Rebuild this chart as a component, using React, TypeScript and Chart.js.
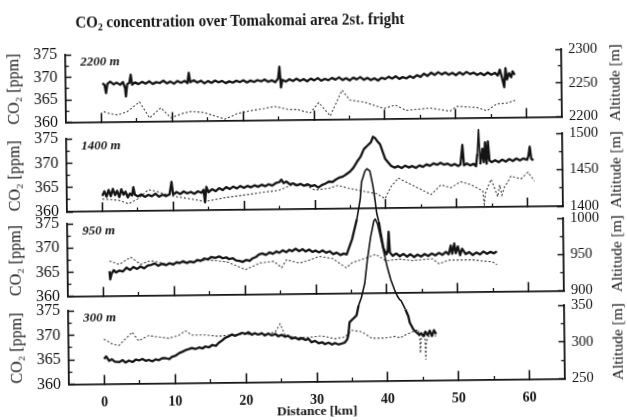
import { useEffect, useRef } from "react";
import { Chart, registerables } from "chart.js";

Chart.register(...registerables);

const SERIF = '"Liberation Serif", "Times New Roman", serif';
const INK = "#141414";

// ---- flight legs and axes -------------------------------------------------
const legNames = ["2200 m", "1400 m", "950 m", "300 m"];
const co2Ticks = [360, 365, 370, 375];
const co2MinorTicks = [362.5, 367.5, 372.5];
const altitudeRanges = [
  [2200, 2300],
  [1400, 1500],
  [900, 1000],
  [250, 350],
];
const distanceTicks = [0, 10, 20, 30, 40, 50, 60];
const distanceMinorTicks = [5, 15, 25, 35, 45, 55];

// ---- CO2 [ppm] along track, [distance km, ppm] ---------------------------
const co2Leg2200 = [
  [0.2, 368.6], [0.5, 368.2], [0.7, 366.4], [0.9, 368.4], [1.3, 368.9], [1.8, 368.3], [2.2, 368.7],
  [2.7, 368.2], [3.1, 368.8], [3.4, 367.4], [3.5, 365.6], [3.7, 368.3], [4.0, 368.6], [4.2, 370.4],
  [4.4, 368.2], [4.8, 368.7], [5.3, 368.3], [5.8, 368.8], [6.3, 368.4], [6.8, 368.9], [7.3, 368.3],
  [7.8, 368.7], [8.3, 368.5], [8.8, 369.0], [9.3, 368.4], [9.8, 368.8], [10.3, 368.3], [10.8, 368.9],
  [11.3, 368.5], [11.8, 368.9], [12.2, 368.4], [12.4, 370.7], [12.6, 368.6], [13.1, 369.0], [13.6, 368.5],
  [14.1, 368.9], [14.6, 368.3], [15.1, 368.8], [15.6, 368.4], [16.1, 368.9], [16.6, 368.5], [17.1, 368.8],
  [17.6, 368.3], [18.1, 368.7], [18.6, 368.4], [19.1, 368.8], [19.6, 368.5], [20.1, 368.9], [20.6, 368.4],
  [21.1, 368.8], [21.6, 368.5], [22.1, 368.9], [22.6, 368.6], [23.1, 369.0], [23.6, 368.5], [24.1, 368.8],
  [24.6, 368.4], [25.0, 369.2], [25.2, 371.8], [25.4, 367.2], [25.6, 368.9], [26.1, 368.5], [26.6, 369.0],
  [27.1, 368.6], [27.6, 369.1], [28.1, 368.6], [28.6, 369.0], [29.1, 368.5], [29.6, 369.1], [30.1, 368.7],
  [30.6, 369.2], [31.1, 368.6], [31.6, 369.0], [32.1, 368.7], [32.6, 369.2], [33.1, 368.8], [33.6, 369.3],
  [34.1, 368.7], [34.6, 369.1], [35.1, 368.6], [35.6, 369.2], [36.1, 368.8], [36.6, 369.3], [37.1, 368.7],
  [37.6, 369.1], [38.1, 368.6], [38.6, 369.0], [39.1, 368.5], [39.6, 369.1], [40.1, 368.8], [40.6, 369.3],
  [41.1, 368.9], [41.6, 369.4], [42.1, 368.8], [42.6, 369.2], [43.1, 368.9], [43.6, 369.4], [44.1, 369.0],
  [44.6, 369.6], [45.1, 369.2], [45.6, 369.9], [46.1, 369.4], [46.6, 370.1], [47.1, 369.6], [47.6, 370.2],
  [48.1, 369.7], [48.6, 370.1], [49.1, 369.6], [49.6, 370.0], [50.1, 369.5], [50.6, 370.1], [51.1, 369.6],
  [51.6, 370.2], [52.1, 369.7], [52.6, 370.0], [53.1, 369.5], [53.6, 369.9], [54.1, 369.4], [54.6, 370.0],
  [55.1, 369.5], [55.6, 369.9], [56.0, 369.3], [56.3, 370.6], [56.6, 368.8], [56.9, 366.7], [57.1, 370.9],
  [57.3, 368.4], [57.6, 369.8], [57.9, 368.9], [58.1, 370.2], [58.4, 369.4],
];

const co2Leg1400 = [
  [0.0, 363.2], [0.3, 364.1], [0.6, 363.0], [0.9, 364.4], [1.2, 363.1], [1.5, 364.6], [1.8, 363.3],
  [2.1, 364.2], [2.4, 362.9], [2.7, 364.5], [3.0, 363.4], [3.3, 364.0], [3.6, 362.8], [3.9, 363.6],
  [4.2, 363.2], [4.4, 364.9], [4.6, 363.4], [5.0, 363.0], [5.5, 363.4], [6.0, 362.9], [6.5, 363.3],
  [7.0, 363.0], [7.5, 363.5], [8.0, 362.9], [8.5, 363.3], [9.0, 363.0], [9.5, 363.4], [9.8, 365.9],
  [10.0, 363.3], [10.5, 363.8], [11.0, 363.4], [11.5, 363.9], [12.0, 363.5], [12.5, 363.8], [13.0, 363.4],
  [13.5, 363.9], [14.0, 363.6], [14.3, 364.2], [14.5, 361.6], [14.7, 364.8], [15.0, 363.7], [15.5, 364.3],
  [16.0, 363.9], [16.5, 364.5], [17.0, 364.1], [17.5, 364.7], [18.0, 364.3], [18.5, 364.8], [19.0, 364.4],
  [19.5, 364.9], [20.0, 364.5], [20.5, 364.9], [21.0, 364.6], [21.5, 365.0], [22.0, 364.7], [22.5, 365.1],
  [23.0, 364.8], [23.5, 365.2], [24.0, 364.9], [24.5, 365.4], [25.0, 365.6], [25.3, 366.1], [25.6, 365.4],
  [26.0, 365.7], [26.5, 365.1], [27.0, 365.3], [27.5, 364.9], [28.0, 365.2], [28.5, 364.8], [29.0, 365.1],
  [29.5, 364.7], [30.0, 364.9], [30.5, 364.4], [31.0, 364.9], [31.5, 365.2], [32.0, 365.6], [32.5, 365.5],
  [33.0, 366.0], [33.5, 366.4], [34.0, 366.6], [34.5, 367.1], [35.0, 367.6], [35.5, 368.4], [36.0, 369.6],
  [36.5, 370.6], [37.0, 372.2], [37.5, 372.9], [38.0, 373.6], [38.3, 374.7], [38.6, 374.4], [39.0, 373.6],
  [39.3, 373.1], [39.6, 371.8], [40.0, 370.1], [40.4, 369.4], [40.8, 368.7], [41.3, 368.3], [41.8, 368.6],
  [42.3, 368.2], [42.8, 368.7], [43.3, 368.3], [43.8, 368.6], [44.3, 368.2], [44.8, 368.7], [45.3, 368.4],
  [45.8, 368.9], [46.3, 368.6], [46.8, 369.1], [47.3, 368.8], [47.8, 369.2], [48.3, 368.8], [48.8, 369.0],
  [49.3, 368.6], [49.8, 368.9], [50.3, 368.5], [50.6, 368.8], [50.9, 372.8], [51.1, 368.6], [51.5, 369.0],
  [52.0, 368.6], [52.5, 368.9], [52.8, 368.4], [53.0, 371.0], [53.2, 375.9], [53.4, 368.8], [53.7, 372.0],
  [53.9, 369.2], [54.1, 373.3], [54.3, 368.9], [54.5, 373.5], [54.7, 369.6], [55.0, 369.2], [55.5, 369.6],
  [56.0, 369.2], [56.5, 369.7], [57.0, 369.3], [57.5, 369.8], [58.0, 369.4], [58.5, 369.9], [59.0, 369.5],
  [59.5, 369.9], [60.0, 369.6], [60.2, 370.4], [60.4, 372.3], [60.6, 369.8], [60.9, 369.5],
];

const co2Leg950 = [
  [0.9, 365.1], [1.0, 363.4], [1.2, 364.6], [1.5, 365.3], [1.8, 364.8], [2.3, 365.2], [2.8, 365.0],
  [3.3, 365.8], [3.8, 365.3], [4.3, 365.9], [4.8, 365.5], [5.3, 366.0], [5.8, 365.6], [6.3, 366.2],
  [6.8, 366.3], [7.3, 366.6], [7.8, 366.1], [8.3, 366.5], [8.9, 366.2], [9.4, 366.6], [9.9, 366.3],
  [10.4, 366.8], [10.8, 366.6], [11.3, 367.0], [11.8, 366.6], [12.3, 366.9], [12.8, 366.7], [13.3, 367.2],
  [13.8, 367.0], [14.3, 367.5], [14.8, 367.3], [15.3, 367.8], [15.9, 367.6], [16.4, 367.9], [16.9, 367.5],
  [17.4, 367.7], [17.8, 367.3], [18.3, 367.5], [18.8, 367.0], [19.3, 366.9], [19.7, 366.7], [20.2, 367.1],
  [20.7, 366.9], [21.1, 367.4], [21.6, 367.7], [22.0, 368.2], [22.5, 368.4], [23.0, 368.1], [23.5, 368.6],
  [24.0, 368.3], [24.5, 368.8], [24.9, 368.5], [25.4, 369.0], [25.9, 368.6], [26.3, 369.1], [26.7, 368.8],
  [27.2, 369.3], [27.7, 368.8], [28.2, 369.2], [28.6, 368.7], [29.1, 369.1], [29.6, 368.6], [30.0, 368.9],
  [30.5, 368.5], [31.0, 368.9], [31.5, 368.4], [32.0, 368.7], [32.5, 368.1], [33.0, 368.4], [33.5, 367.9],
  [34.0, 368.2], [34.4, 368.0], [34.7, 369.2], [35.2, 371.2], [35.9, 375.3], [36.4, 379.4], [36.6, 382.9],
  [37.1, 385.2], [37.4, 385.7], [37.8, 385.2], [38.2, 382.2], [38.5, 379.0], [38.7, 376.5], [39.0, 374.6],
  [39.2, 372.6], [39.6, 369.2], [40.0, 367.9], [40.2, 368.6], [40.35, 372.6], [40.5, 368.3], [40.9, 367.6],
  [41.4, 368.1], [41.9, 367.5], [42.4, 368.0], [42.9, 367.4], [43.4, 367.9], [43.9, 367.3], [44.4, 367.8],
  [44.9, 367.4], [45.4, 367.9], [45.9, 367.5], [46.4, 368.0], [46.9, 367.6], [47.4, 368.1], [47.9, 367.7],
  [48.4, 368.3], [48.8, 367.8], [49.1, 369.6], [49.3, 367.9], [49.6, 370.0], [49.8, 368.0], [50.1, 369.4],
  [50.4, 367.6], [50.7, 368.9], [51.2, 367.8], [51.7, 368.2], [52.2, 367.6], [52.7, 368.1], [53.2, 367.7],
  [53.7, 368.3], [54.2, 367.8], [54.7, 368.2], [55.2, 367.9], [55.6, 368.3],
];

const co2Leg300 = [
  [0.0, 365.1], [0.3, 365.6], [0.7, 364.7], [1.1, 365.0], [1.5, 364.5], [2.1, 364.4], [2.6, 364.8],
  [3.0, 364.3], [3.5, 364.7], [4.0, 364.4], [4.5, 364.9], [4.9, 364.7], [5.4, 365.0], [5.9, 364.6],
  [6.3, 364.8], [6.8, 364.5], [7.3, 364.9], [7.7, 364.7], [8.2, 365.1], [8.7, 365.1], [9.2, 364.9],
  [9.6, 365.4], [10.1, 365.6], [10.6, 366.1], [11.1, 366.4], [11.5, 366.7], [12.0, 366.9], [12.4, 367.1],
  [12.9, 366.9], [13.4, 367.2], [13.9, 367.0], [14.3, 367.4], [14.8, 367.2], [15.3, 367.7], [15.8, 367.5],
  [16.2, 368.1], [16.7, 368.6], [17.1, 369.1], [17.6, 369.4], [18.1, 369.8], [18.5, 369.5], [19.0, 369.8],
  [19.5, 370.1], [20.0, 369.9], [20.4, 370.2], [20.9, 369.7], [21.3, 370.0], [21.8, 369.7], [22.3, 370.0],
  [22.7, 369.5], [23.2, 369.9], [23.7, 369.5], [24.2, 369.8], [24.6, 369.3], [25.1, 369.6], [25.6, 369.2],
  [26.0, 369.4], [26.5, 368.8], [27.0, 369.0], [27.5, 368.6], [27.9, 368.9], [28.4, 368.5], [28.9, 368.7],
  [29.3, 368.0], [29.8, 368.3], [30.3, 367.8], [30.8, 368.0], [31.2, 367.6], [31.7, 367.9], [32.2, 367.5],
  [32.6, 367.8], [33.1, 367.5], [33.6, 367.7], [34.0, 367.9], [34.3, 368.4], [34.5, 369.3], [34.7, 372.0],
  [35.2, 372.7], [35.7, 373.4], [36.0, 375.4], [36.4, 377.0], [36.9, 379.9], [37.3, 384.6], [37.8, 389.3],
  [38.3, 392.7], [38.5, 393.0], [38.8, 392.0], [39.2, 389.3], [39.7, 385.9], [40.1, 383.2], [40.6, 380.5],
  [41.1, 378.5], [41.5, 377.2], [41.8, 376.5], [42.0, 376.3], [42.6, 374.5], [43.0, 373.1], [43.2, 371.8],
  [43.7, 370.4], [44.1, 369.8], [44.5, 369.3], [44.8, 369.6], [45.1, 369.0], [45.4, 369.9], [45.7, 369.2],
  [46.0, 370.1], [46.3, 369.0], [46.6, 370.2], [46.9, 369.4],
];

// ---- aircraft altitude [m] along track, [distance km, m] -----------------
const altLeg2200 = [
  [0.35, 2215], [1.2, 2212], [2.3, 2210], [3.7, 2215], [5.4, 2229], [6.8, 2205], [8.4, 2220], [9.8, 2205],
  [11.7, 2212], [12.8, 2214], [14.5, 2212], [16.0, 2207], [17.4, 2202], [19.2, 2210], [21.0, 2214],
  [23.0, 2217], [24.4, 2220], [25.3, 2218], [26.4, 2215], [27.7, 2215], [28.6, 2212], [29.5, 2210],
  [30.7, 2225], [32.3, 2205], [34.0, 2243], [35.1, 2228], [37.1, 2225], [39.9, 2215], [41.5, 2220],
  [43.0, 2212], [46.4, 2215], [49.2, 2210], [50.2, 2217], [53.0, 2215], [54.4, 2210], [55.8, 2220],
  [57.2, 2221], [58.4, 2225],
];

const altLeg1400 = [
  [0.0, 1417], [2.3, 1415], [3.7, 1410], [5.1, 1417], [6.5, 1429], [7.5, 1427], [9.8, 1420], [11.7, 1417],
  [14.5, 1412], [17.4, 1417], [19.9, 1420], [23.0, 1424], [24.9, 1426], [26.7, 1433], [28.6, 1433],
  [30.0, 1426], [31.9, 1428], [33.3, 1432], [34.7, 1428], [37.1, 1423], [38.7, 1420], [39.9, 1413],
  [40.8, 1430], [41.8, 1441], [43.2, 1434], [45.0, 1425], [46.4, 1418], [47.8, 1431], [49.2, 1427],
  [50.6, 1435], [52.0, 1431], [53.7, 1422], [53.9, 1404], [54.1, 1420], [54.9, 1438], [55.4, 1425],
  [55.8, 1414], [56.1, 1430], [56.4, 1416], [56.8, 1428], [57.2, 1433], [57.7, 1442], [59.1, 1438],
  [60.1, 1447], [61.0, 1435],
];

const altLeg950 = [
  [0.9, 948], [2.3, 943], [3.9, 953], [5.3, 943], [6.7, 948], [9.0, 943], [11.9, 945], [14.7, 948],
  [17.5, 945], [20.1, 934], [22.2, 943], [24.1, 945], [25.2, 936], [25.9, 947], [27.7, 942], [29.1, 946],
  [30.5, 951], [32.4, 948], [34.3, 935], [35.2, 942], [37.1, 948], [38.5, 953], [39.9, 944], [41.8, 946],
  [43.6, 944], [46.5, 946], [47.4, 939], [48.8, 944], [50.7, 944], [52.1, 944], [53.7, 942], [54.9, 941],
  [55.6, 937],
];

const altLeg300 = [
  [0.0, 311], [1.2, 304], [2.1, 302], [3.5, 315], [4.0, 320], [4.9, 308], [6.3, 315], [7.7, 313],
  [9.2, 311], [10.6, 315], [11.5, 321], [12.4, 315], [14.3, 315], [16.2, 313], [18.1, 315], [20.4, 315],
  [22.8, 315], [24.2, 318], [24.9, 329], [25.6, 313], [27.5, 310], [28.9, 310], [30.7, 312], [32.6, 308],
  [34.0, 310], [35.0, 319], [36.4, 317], [37.8, 308], [39.7, 308], [41.1, 310], [41.8, 308], [43.0, 314],
  [44.4, 319], [44.6, 305], [44.65, 287], [44.8, 310], [45.3, 316], [45.4, 278], [45.5, 303], [46.0, 312],
  [46.9, 310],
];

const co2Series = [co2Leg2200, co2Leg1400, co2Leg950, co2Leg300];
const altSeries = [altLeg2200, altLeg1400, altLeg950, altLeg300];

// ---- layout of the four stacked panels (canvas px) -----------------------
const W = 627;
const H = 420;
const PLOT_LEFT = 67;
const PLOT_RIGHT = 563;
const PANEL_BANDS = [
  [52, 119.5],
  [136, 209],
  [221, 293.5],
  [308, 381.5],
];
// the printed sheet sits slightly askew
const SHEET_TILT_DEG = -0.65;

const toXY = (pts: number[][]) => pts.map(([x, y]) => ({ x, y }));
const fixWidth = (w: number) => (s: any) => {
  s.width = w;
};
const fixHeight = (h: number) => (s: any) => {
  s.height = h;
};
const useTicks = (vals: number[]) => (s: any) => {
  s.ticks = vals.map((v) => ({ value: v }));
};

const legLabel = {
  id: "legLabel",
  afterDatasetsDraw(chart: any, _args: any, opts: any) {
    const { ctx, chartArea } = chart;
    ctx.save();
    ctx.font = `italic bold 13px ${SERIF}`;
    ctx.fillStyle = INK;
    ctx.textBaseline = "middle";
    ctx.fillText(opts.text, chartArea.left + 15, chartArea.top + 8);
    ctx.restore();
  },
};

function panelConfig(i: number): any {
  const [top, bottom] = PANEL_BANDS[i];
  const last = i === PANEL_BANDS.length - 1;
  const axisH = last ? 38.5 : 0;
  const [altMin, altMax] = altitudeRanges[i];
  const mid = (altMin + altMax) / 2;

  const tickGrid = (len: number, width: number) => ({
    display: true,
    drawOnChartArea: false,
    drawTicks: true,
    tickLength: -len,
    tickWidth: width,
    tickColor: INK,
  });

  return {
    type: "line",
    data: {
      datasets: [
        {
          label: "Altitude",
          data: toXY(altSeries[i]),
          xAxisID: "x",
          yAxisID: "alt",
          borderColor: "#3c3c3c",
          borderWidth: 1.1,
          borderDash: [2, 2],
          pointRadius: 0,
          tension: 0,
          clip: false,
          order: 2,
        },
        {
          label: "CO2",
          data: toXY(co2Series[i]),
          xAxisID: "x",
          yAxisID: "co2",
          borderColor: INK,
          borderWidth: 2.3,
          borderJoinStyle: "round",
          pointRadius: 0,
          tension: 0,
          clip: false,
          order: 1,
          segment: {
            borderWidth: (ctx: any) =>
              ctx.p0.parsed.y > 375.5 || ctx.p1.parsed.y > 375.5 ? 1.6 : 2.3,
          },
        },
      ],
    },
    options: {
      responsive: false,
      maintainAspectRatio: false,
      animation: false,
      devicePixelRatio: 1,
      events: [],
      layout: {
        padding: { left: 0, right: 0, top, bottom: H - bottom - axisH },
      },
      plugins: {
        legend: { display: false },
        tooltip: { enabled: false },
        legLabel: { text: legNames[i] },
      },
      scales: {
        x: {
          type: "linear",
          position: "bottom",
          min: -5,
          max: 65,
          weight: 1,
          afterBuildTicks: useTicks(distanceTicks),
          afterFit: fixHeight(axisH),
          grid: tickGrid(9, 1.6),
          border: { display: true, color: INK, width: 1.8 },
          ticks: {
            display: last,
            autoSkip: false,
            maxRotation: 0,
            padding: 19,
            color: INK,
            font: { family: SERIF, size: 14, weight: "bold" },
            callback: (v: any) => String(v),
          },
          title: {
            display: last,
            text: "Distance [km]",
            color: INK,
            font: { family: SERIF, size: 13.5, weight: "bold" },
            padding: { top: 0, bottom: 0 },
          },
        },
        xMinor: {
          type: "linear",
          position: "bottom",
          min: -5,
          max: 65,
          weight: 0,
          afterBuildTicks: useTicks(distanceMinorTicks),
          afterFit: fixHeight(0),
          grid: tickGrid(3.5, 1.3),
          border: { display: false },
          ticks: { display: false },
        },
        co2: {
          type: "linear",
          position: "left",
          min: 360,
          max: 375,
          weight: 1,
          afterBuildTicks: useTicks(co2Ticks),
          afterFit: fixWidth(PLOT_LEFT),
          grid: tickGrid(6, 1.5),
          border: { display: true, color: INK, width: 1.8 },
          ticks: {
            padding: 14,
            color: INK,
            font: { family: SERIF, size: 16 },
            callback: (v: any) => String(v),
          },
          title: {
            display: true,
            text: "CO₂ [ppm]",
            color: INK,
            font: { family: SERIF, size: 16 },
            padding: { top: 6, bottom: 0 },
          },
        },
        co2Minor: {
          type: "linear",
          position: "left",
          min: 360,
          max: 375,
          weight: 0,
          afterBuildTicks: useTicks(co2MinorTicks),
          afterFit: fixWidth(0),
          grid: tickGrid(3.5, 1.3),
          border: { display: false },
          ticks: { display: false },
        },
        alt: {
          type: "linear",
          position: "right",
          min: altMin,
          max: altMax,
          weight: 1,
          afterBuildTicks: useTicks([altMin, mid, altMax]),
          afterFit: fixWidth(W - PLOT_RIGHT),
          grid: tickGrid(6, 1.5),
          border: { display: true, color: INK, width: 1.8 },
          ticks: {
            padding: 13,
            color: INK,
            font: { family: SERIF, size: 14.5 },
            callback: (v: any) => String(v),
          },
        },
        altMinor: {
          type: "linear",
          position: "right",
          min: altMin,
          max: altMax,
          weight: 0,
          afterBuildTicks: useTicks([altMin + 25, altMax - 25]),
          afterFit: fixWidth(0),
          grid: tickGrid(3.5, 1.3),
          border: { display: false },
          ticks: { display: false },
        },
      },
    },
    plugins: [legLabel],
  };
}

function AltitudeTitle({ y }: { y: number }) {
  return (
    <div
      style={{
        position: "absolute",
        left: 616,
        top: y,
        transform: "translate(-50%, -50%) rotate(-90deg)",
        whiteSpace: "nowrap",
        fontFamily: SERIF,
        fontSize: 15.5,
        lineHeight: 1,
        color: INK,
      }}
    >
      Altitude [m]
    </div>
  );
}

export default function App() {
  const refs = useRef<(HTMLCanvasElement | null)[]>([]);

  useEffect(() => {
    const charts = refs.current.map((cv, i) => (cv ? new Chart(cv, panelConfig(i)) : null));
    return () => charts.forEach((c) => c && c.destroy());
  }, []);

  return (
    <div
      style={{
        position: "fixed",
        left: 0,
        top: 0,
        width: W,
        height: H,
        background: "#fff",
        overflow: "hidden",
        transform: `rotate(${SHEET_TILT_DEG}deg)`,
      }}
    >
      <div
        style={{
          position: "absolute",
          left: 242,
          top: 12,
          transform: "translateX(-50%) scaleX(0.91)",
          whiteSpace: "nowrap",
          fontFamily: SERIF,
          fontWeight: "bold",
          fontSize: 16.5,
          lineHeight: 1,
          color: INK,
        }}
      >
        CO
        <span style={{ fontSize: "0.65em", position: "relative", top: "0.3em" }}>2</span> concentration
        over Tomakomai area 2st. fright
      </div>
      {PANEL_BANDS.map((_, i) => (
        <canvas
          key={i}
          ref={(el) => {
            refs.current[i] = el;
          }}
          width={W}
          height={H}
          style={{ position: "absolute", left: 0, top: 0, width: W, height: H }}
        />
      ))}
      {PANEL_BANDS.map(([t, b], i) => (
        <AltitudeTitle key={i} y={(t + b) / 2} />
      ))}
    </div>
  );
}
